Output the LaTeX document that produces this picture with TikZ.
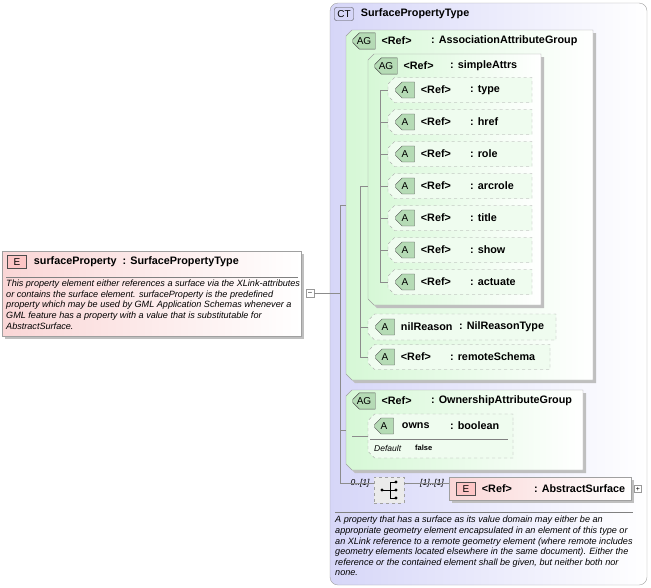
\documentclass[tikz,border=0pt]{standalone}
\usepackage{fontspec}
\setmainfont{Liberation Sans}
\usetikzlibrary{positioning,shapes.misc}
\definecolor{ctblue}{RGB}{214,214,248}
\definecolor{aggreen}{RGB}{214,248,214}
\definecolor{elred}{RGB}{250,214,214}
\definecolor{edgegray}{RGB}{160,160,160}
\tikzset{
  tag/.style={draw=black!70, inner sep=1pt, minimum width=19pt, minimum height=13pt, font=\fontsize{10}{10}\selectfont},
  ctag/.style={tag, rounded corners=2pt, fill=ctblue},
  atag/.style={tag, chamfered rectangle, chamfered rectangle corners={north west,south west}, chamfered rectangle xsep=3pt, fill=aggreen!60!green!70!black!45},
  etag/.style={tag, fill=elred!70!red!55},
  lbl/.style={anchor=west, font=\bfseries\fontsize{10.8}{12}\selectfont, inner sep=0pt},
  note/.style={anchor=north west, align=left, font=\itshape\fontsize{9.1}{10.6}\selectfont, inner sep=0pt},
  mult/.style={font=\itshape\fontsize{8.5}{9}\selectfont},
  conn/.style={draw=black!45, line width=0.4pt},
  attr/.style={draw=edgegray, dashed, fill=aggreen!40, chamfered rectangle, chamfered rectangle corners={north west,south west}, chamfered rectangle xsep=6pt}
}
\begin{document}
\begin{tikzpicture}[x=1pt,y=-1pt]
\useasboundingbox (0,0) rectangle (651,587);
% complex type
\shade[left color=ctblue, right color=white, draw=edgegray, rounded corners=8pt] (330,3) rectangle (647,585);
\node[ctag] (ct) at (344,14) {CT};
\node[lbl, right=7pt of ct] (ctname) {SurfacePropertyType};
% association attribute group
\fill[black!25] (349,33) -- (596,33) -- (596,383) -- (355,383) -- (349,377) -- cycle;
\shade[left color=aggreen, right color=white, draw=edgegray] (352,30) -- (593,30) -- (593,380) -- (352,380) -- (346,374) -- (346,36) -- cycle;
\node[atag] (ag1) at (364,41) {AG};
\node[lbl, right=6pt of ag1] (ag1ref) {<Ref>};
\node[lbl] (ag1name) at (431,41) {: AssociationAttributeGroup};
% simpleAttrs group
\fill[black!25] (371,57) -- (544,57) -- (544,308) -- (377,308) -- (371,302) -- cycle;
\shade[left color=aggreen, right color=white, draw=edgegray] (374,54) -- (541,54) -- (541,305) -- (374,305) -- (368,299) -- (368,60) -- cycle;
\node[atag] (ag2) at (386,66) {AG};
\node[lbl, right=6pt of ag2] (ag2ref) {<Ref>};
\node[lbl] (ag2name) at (450,66) {: simpleAttrs};
% attributes
\coordinate (sa) at (380,90);
\foreach \n/\t [count=\i from 0] in {type/type,href/href,role/role,arcrole/arcrole,title/title,show/show,actuate/actuate} {
  \node[attr, minimum width=144pt, minimum height=25pt] (\n) at (460,90+32*\i) {};
  \node[atag] (\n tag) at (405,90+32*\i) {A};
  \node[lbl, right=6pt of \n tag] {<Ref>};
  \node[lbl] at (470,90+32*\i) {: \t};
  \draw[conn] (380,90+32*\i) -- (\n.west);
}
\draw[conn] (type.west -| sa) -- (actuate.west -| sa);
% nilReason and remoteSchema
\node[attr, minimum width=188pt, minimum height=26pt] (nil) at (462,327) {};
\node[atag] (niltag) at (385,327) {A};
\node[lbl, right=6pt of niltag] {nilReason};
\node[lbl] at (459,327) {: NilReasonType};
\node[attr, minimum width=182pt, minimum height=25pt] (remote) at (459,357) {};
\node[atag] (remtag) at (385,357) {A};
\node[lbl, right=6pt of remtag] {<Ref>};
\node[lbl] at (450,357) {: remoteSchema};
\draw[conn] (360,186) -- (368,186);
\draw[conn] (360,186) -- (360,357) -- (remote.west);
\draw[conn] (360,327) -- (nil.west);
% ownership attribute group
\fill[black!25] (349,393) -- (586,393) -- (586,473) -- (355,473) -- (349,467) -- cycle;
\shade[left color=aggreen, right color=white, draw=edgegray] (352,390) -- (583,390) -- (583,470) -- (352,470) -- (346,464) -- (346,396) -- cycle;
\node[atag] (ag3) at (364,401) {AG};
\node[lbl, right=6pt of ag3] {<Ref>};
\node[lbl] at (431,401) {: OwnershipAttributeGroup};
\node[attr, minimum width=145pt, minimum height=44pt] (owns) at (440.5,436) {};
\node[atag] (ownstag) at (384,426) {A};
\node[lbl, right=8pt of ownstag] {owns};
\node[lbl] at (450,426) {: boolean};
\draw[black!50] (370,439) -- (508,439);
\node[lbl, font=\itshape\fontsize{8.5}{9}\selectfont] at (374,448) {Default};
\node[lbl, font=\bfseries\fontsize{7.5}{8}\selectfont] at (415,448) {false};
% sequence and element
\node[draw=edgegray, dashed, fill=black!8, minimum width=30pt, minimum height=26pt] (seq) at (389,490) {};
\draw (382,490) -- (390,490) (390,482) -- (390,498) (390,482) -- (396,482) (390,498) -- (396,498) (390,490) -- (396,490);
\fill (382,490) circle (1.6pt) (396,482) circle (1.6pt) (396,490) circle (1.6pt) (396,498) circle (1.6pt);
\node[mult] at (360,483) {0..[1]};
\node[mult] at (432,483) {[1]..[1]};
\fill[black!25] (452,480) rectangle (634,503);
\shade[left color=elred, right color=white, draw=edgegray] (449,477) rectangle (631,500);
\node[etag] (abs) at (466,489) {E};
\node[lbl, right=6pt of abs] {<Ref>};
\node[lbl] at (534,489) {: AbstractSurface};
\node[draw=black!40, fill=white, minimum size=7pt, inner sep=0pt, font=\fontsize{7}{7}\selectfont] (plus) at (638,489) {+};
\draw[conn] (seq.east |- 0,483) -- (449,483);
% description of type
\draw[black!50] (335,512) -- (633,512);
\node[note] at (335,516) {A property that has a surface as its value domain may either be an\\appropriate geometry element encapsulated in an element of this type or\\an XLink reference to a remote geometry element (where remote includes\\geometry elements located elsewhere in the same document). Either the\\reference or the contained element shall be given, but neither both nor\\none.};
% global element
\fill[black!25] (5,254) rectangle (304,339);
\shade[left color=elred, right color=white, draw=edgegray] (2,251) rectangle (301,336);
\node[etag] (el) at (17,262) {E};
\node[lbl, right=7pt of el] {surfaceProperty\ \ : SurfacePropertyType};
\draw[black!50] (6,277) -- (298,277);
\node[note] at (6,280) {This property element either references a surface via the XLink-attributes\\or contains the surface element. surfaceProperty is the predefined\\property which may be used by GML Application Schemas whenever a\\GML feature has a property with a value that is substitutable for\\AbstractSurface.};
\node[draw=black!40, fill=white, minimum size=8pt, inner sep=0pt, font=\fontsize{7}{7}\selectfont] (minus) at (310,293) {--};
% connectors
\draw[conn] (minus.east) -- (340,293);
\draw[conn] (340,205) -- (340,483) -- (seq.west |- 0,483);
\draw[conn] (340,205) -- (346,205);
\draw[conn] (340,430) -- (346,430);
\draw[conn] (352,436) -- (owns.west);
\end{tikzpicture}
\end{document}
